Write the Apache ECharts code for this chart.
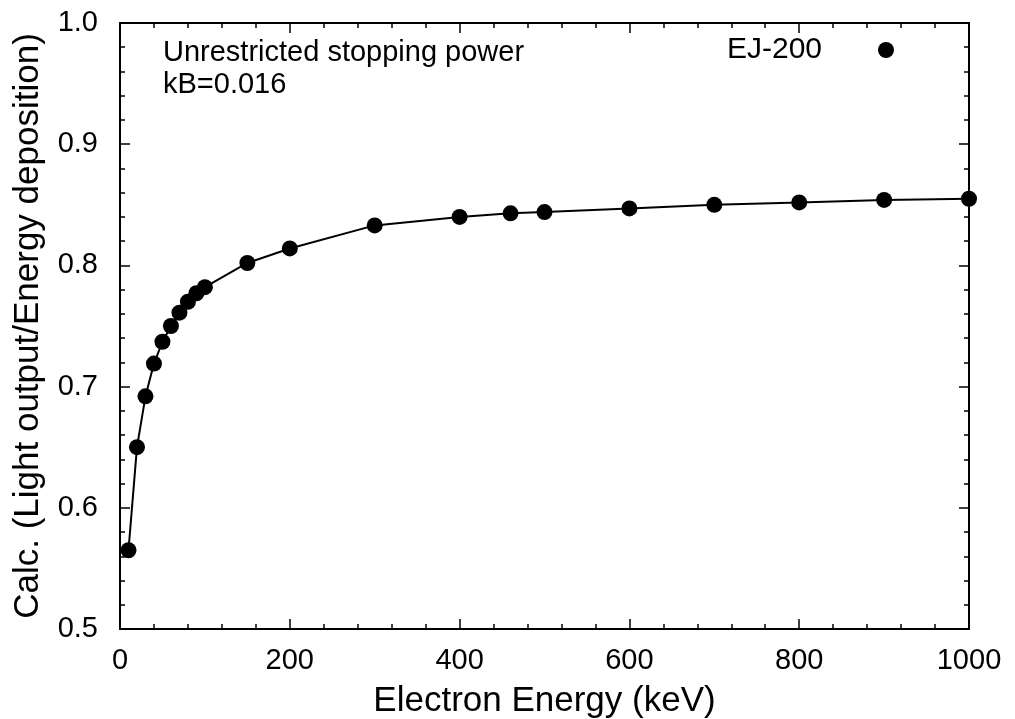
<!DOCTYPE html>
<html>
<head>
<meta charset="utf-8">
<script src="https://cdn.jsdelivr.net/npm/echarts@6/dist/echarts.min.js"></script>
<style>
  html, body { margin: 0; padding: 0; background: #fff; }
  #chart { width: 1015px; height: 719px; }
</style>
</head>
<body>
<div id="chart"></div>
<script>
// Electron energies (keV) and calculated light output / energy deposition ratio
const energies = [10, 20, 30, 40, 50, 60, 70, 80, 90, 100, 150, 200, 300, 400, 460, 500, 600, 700, 800, 900, 1000];
const ratios = [0.565, 0.650, 0.692, 0.719, 0.737, 0.750, 0.761, 0.770, 0.777, 0.782, 0.802, 0.814, 0.833, 0.840, 0.843, 0.844, 0.847, 0.850, 0.852, 0.854, 0.855];
const seriesName = 'EJ-200';
const noteLines = ['Unrestricted stopping power', 'kB=0.016'];
const xTitle = 'Electron Energy (keV)';
const yTitle = 'Calc. (Light output/Energy deposition)';

const FONT = '"Liberation Sans", Arial, Helvetica, sans-serif';
const points = energies.map((e, i) => [e, ratios[i]]);

const tickStyle = { lineStyle: { color: '#000', width: 1.5 } };
const axisLine = { show: true, onZero: false, lineStyle: { color: '#000', width: 2 } };

function xAx(pos, showLabels) {
  return {
    type: 'value', position: pos, min: 0, max: 1000, interval: 200,
    axisLine: axisLine,
    axisTick: Object.assign({ show: true, inside: true, length: 10 }, tickStyle),
    minorTick: Object.assign({ show: true, splitNumber: 5, length: 5 }, tickStyle),
    splitLine: { show: false },
    axisLabel: { show: showLabels, color: '#000', fontFamily: FONT, fontSize: 29, margin: 17,
                 formatter: v => String(v) },
    name: showLabels ? xTitle : '', nameLocation: 'middle', nameGap: 55,
    nameTextStyle: { color: '#000', fontFamily: FONT, fontSize: 35 }
  };
}
function yAx(pos, showLabels) {
  return {
    type: 'value', position: pos, min: 0.5, max: 1.0, interval: 0.1,
    axisLine: axisLine,
    axisTick: Object.assign({ show: true, inside: true, length: 10 }, tickStyle),
    minorTick: Object.assign({ show: true, splitNumber: 5, length: 5 }, tickStyle),
    splitLine: { show: false },
    axisLabel: { show: showLabels, color: '#000', fontFamily: FONT, fontSize: 29, margin: 22,
                 formatter: v => v.toFixed(1) },
    name: showLabels ? yTitle : '', nameLocation: 'middle', nameGap: 74,
    nameTextStyle: { color: '#000', fontFamily: FONT, fontSize: 35 }
  };
}

const chart = echarts.init(document.getElementById('chart'), null, { renderer: 'canvas' });
chart.setOption({
  animation: false,
  backgroundColor: '#fff',
  grid: { left: 120, right: 46, top: 23, bottom: 90, containLabel: false, outerBoundsMode: 'none' },
  xAxis: [xAx('bottom', true), xAx('top', false)],
  yAxis: [yAx('left', true), yAx('right', false)],
  legend: {
    data: [{ name: seriesName, icon: 'circle' }],
    right: 116, top: 30,
    align: 'right',
    itemWidth: 16, itemHeight: 16,
    textStyle: { color: '#000', fontFamily: FONT, fontSize: 30, padding: [0, 51, 0, 0] }
  },
  graphic: noteLines.map((t, i) => ({
    type: 'text', left: 163, top: 38 + i * 32,
    style: { text: t, fill: '#000', font: '29px ' + FONT }
  })),
  series: [{
    name: seriesName,
    type: 'line',
    data: points,
    xAxisIndex: 0, yAxisIndex: 0,
    symbol: 'circle', symbolSize: 16,
    lineStyle: { color: '#000', width: 2 },
    itemStyle: { color: '#000' }
  }]
});
</script>
</body>
</html>
